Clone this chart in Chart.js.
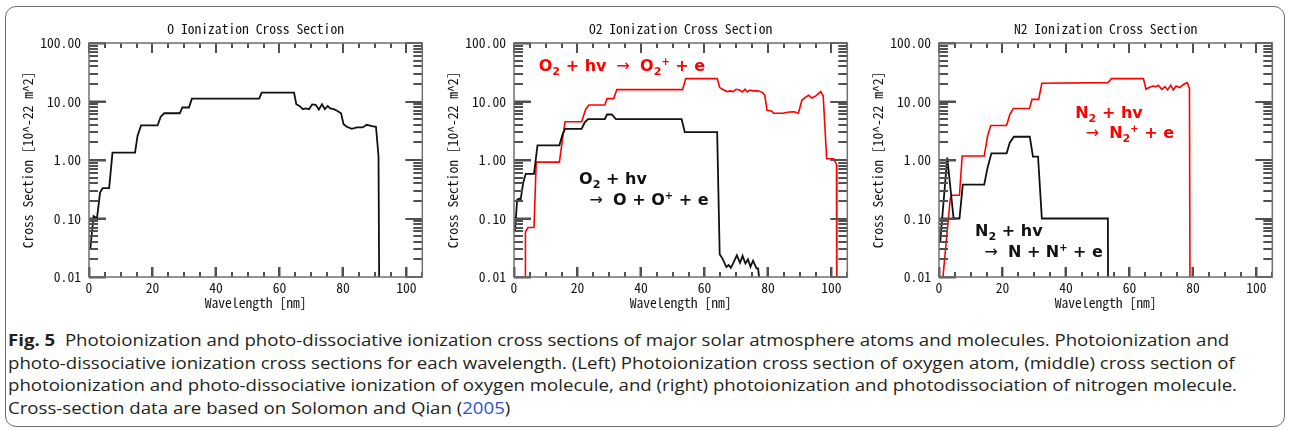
<!DOCTYPE html>
<html>
<head>
<meta charset="utf-8">
<script src="https://cdn.jsdelivr.net/npm/chart.js@4.4.1/dist/chart.umd.min.js"></script>
<style>
  html, body { margin: 0; padding: 0; background: #fff; }
  #fig { position: relative; width: 1290px; height: 431px; overflow: hidden; }
  #frame { position: absolute; left: 5px; top: 6px; width: 1280px; height: 421px;
           border: 1px solid #6e6e6e; border-radius: 11px; box-sizing: border-box; }
  canvas { position: absolute; top: 0; }
  #caption { position: absolute; left: 8px; top: 329px; font-family: "Open Sans", "Noto Sans", sans-serif;
             font-size: 16px; line-height: 22.7px; color: #231f20; white-space: nowrap; transform-origin: 0 0; }
  #caption b { font-weight: 700; }
  #caption .ref { color: #2a52d6; }
</style>
</head>
<body>
<div id="fig">
  <div id="frame"></div>
  <canvas id="cO" width="430" height="315" style="left:0px"></canvas>
  <canvas id="cO2" width="430" height="315" style="left:425px"></canvas>
  <canvas id="cN2" width="430" height="315" style="left:850px"></canvas>
  <div id="caption">
    <div><b>Fig. 5</b>&nbsp; Photoionization and photo-dissociative ionization cross sections of major solar atmosphere atoms and molecules. Photoionization and</div>
    <div>photo-dissociative ionization cross sections for each wavelength. (Left) Photoionization cross section of oxygen atom, (middle) cross section of</div>
    <div id="capRef">photoionization and photo-dissociative ionization of oxygen molecule, and (right) photoionization and photodissociation of nitrogen molecule.</div>
    <div>Cross-section data are based on Solomon and Qian (<span class="ref">2005</span>)</div>
  </div>
</div>
<script>
// Wavelength [nm] and cross section [10^-22 m^2] for each curve
const oWavelength = [0.4, 1.45, 2.5, 3.5, 4.3, 6.35, 7.4, 14.5, 15.3, 16.4, 21.6, 22.6, 23.7, 28.6, 29.4, 31.5, 32.4, 53.6, 54.4, 64.6, 65.3, 66.3, 67.4, 68.2, 69.3, 70.3, 71.4, 72.4, 73.4, 74.3, 75.2, 76.0, 77.1, 78.3, 79.4, 80.2, 81.2, 82.8, 84.4, 86.2, 87.5, 89.1, 90.4, 91.2, 91.5];
const oCross      = [0.03, 0.11, 0.10, 0.28, 0.33, 0.33, 1.34, 1.34, 2.6, 3.9, 3.9, 5.5, 6.3, 6.3, 7.9, 7.9, 11.2, 11.2, 14.2, 14.2, 9.0, 8.4, 7.4, 7.6, 7.4, 8.9, 8.8, 7.3, 9.0, 7.4, 8.4, 7.6, 7.4, 6.9, 6.3, 4.1, 3.7, 3.4, 3.6, 3.6, 4.0, 3.8, 3.7, 1.17, 0.001];

const o2IonWavelength = [3.5, 3.6, 4.4, 6.3, 7.0, 14.3, 15.3, 16.1, 21.3, 22.6, 23.6, 28.6, 29.3, 31.4, 32.4, 53.1, 54.1, 64.0, 64.8, 65.7, 67.0, 68.2, 69.0, 70.0, 71.0, 71.9, 72.8, 73.5, 74.3, 75.3, 76.9, 78.3, 79.0, 79.7, 81.1, 81.8, 84.6, 86.7, 88.2, 89.6, 90.7, 91.7, 92.8, 93.8, 95.1, 96.6, 97.4, 98.5, 100.7, 101.6, 101.7];
const o2IonCross      = [0.001, 0.059, 0.07, 0.07, 0.92, 0.92, 2.3, 4.5, 4.5, 7.4, 8.7, 8.7, 11.2, 11.2, 16.0, 16.0, 24.6, 24.6, 17.3, 16.2, 14.8, 15.2, 14.8, 16.2, 15.7, 14.6, 16.2, 14.6, 15.7, 15.2, 15.2, 14.2, 12.9, 7.1, 6.9, 6.3, 6.3, 6.6, 6.7, 6.3, 10.6, 11.7, 12.8, 11.5, 12.5, 14.8, 12.5, 1.05, 1.05, 0.84, 0.001];

const o2DissWavelength = [0.3, 1.0, 1.7, 2.1, 2.9, 3.7, 6.3, 7.4, 14.3, 15.3, 16.1, 21.3, 22.3, 23.3, 28.6, 29.3, 30.8, 32.1, 52.8, 53.8, 64.0, 64.8, 65.8, 66.9, 67.6, 68.3, 69.1, 70.2, 71.2, 72.0, 72.9, 73.7, 74.5, 75.3, 76.4, 76.9, 77.8];
const o2DissCross      = [0.061, 0.21, 0.22, 0.21, 0.41, 0.58, 0.58, 1.78, 1.78, 2.75, 3.4, 3.4, 4.4, 5.0, 5.0, 6.0, 6.0, 5.0, 5.0, 3.0, 3.0, 0.0244, 0.020, 0.0148, 0.016, 0.0143, 0.0175, 0.0235, 0.0175, 0.023, 0.017, 0.020, 0.015, 0.019, 0.014, 0.014, 0.005];

const n2IonWavelength = [1.25, 3.55, 4.05, 6.45, 7.3, 14.25, 15.3, 16.3, 21.3, 22.3, 23.4, 28.5, 29.3, 31.4, 32.4, 53.2, 54.3, 64.4, 65.2, 66.2, 67.3, 68.3, 69.1, 70.2, 71.2, 72.0, 73.0, 73.8, 74.7, 75.8, 77.1, 78.2, 78.9, 79.1];
const n2IonCross      = [0.01, 0.22, 0.25, 0.25, 1.17, 1.17, 2.57, 3.9, 3.9, 6.0, 7.6, 7.6, 10.9, 10.9, 20.5, 21.0, 24.6, 24.6, 16.2, 17.3, 18.4, 18.0, 19.0, 16.2, 18.0, 15.8, 19.0, 15.8, 18.4, 17.3, 19.7, 21.0, 16.6, 0.001];

const n2DissWavelength = [0.4, 2.6, 4.6, 6.45, 7.5, 14.25, 15.3, 16.5, 21.3, 22.3, 23.6, 28.6, 29.6, 31.2, 32.4, 53.2, 53.3];
const n2DissCross      = [0.041, 1.1, 0.10, 0.10, 0.38, 0.38, 0.74, 1.3, 1.3, 1.98, 2.5, 2.5, 1.14, 1.14, 0.10, 0.10, 0.001];

// Axis ticks
const xTickValues = [0, 20, 40, 60, 80, 100];
const xMinorTicks = [5, 10, 15, 25, 30, 35, 45, 50, 55, 65, 70, 75, 85, 90, 95, 105];
const yTickValues = [0.01, 0.1, 1, 10, 100];
const yTickLabels = ['0.01', '0.10', '1.00', '10.00', '100.00'];
const yMinorFactors = [2, 3, 4, 5, 6, 7, 8, 9];

const panelTitles = ['O Ionization Cross Section', 'O2 Ionization Cross Section', 'N2 Ionization Cross Section'];
const xAxisTitle = 'Wavelength [nm]';
const yAxisTitle = 'Cross Section [10^-22 m^2]';

const RED = '#ff0000';
const BLACK = '#111111';
const TICK_GREY = '#505050';
const AXIS_FONT = '"Noto Sans Mono CJK JP", "DejaVu Sans Mono", monospace';
const AXIS_SIZE = 13.6;
const NOTE_FONT = '"DejaVu Sans", Verdana, sans-serif';
const X_MAJOR_LEN = 10, X_MINOR_LEN = 5, Y_MAJOR_LEN = 17, Y_MINOR_LEN = 9;

const toPoints = (xs, ys) => xs.map((x, i) => ({ x, y: ys[i] }));

// Inward tick marks on all four edges plus the plot frame
const frameTicks = {
  id: 'frameTicks',
  afterDraw(chart) {
    const ctx = chart.ctx;
    const a = chart.chartArea;
    const xs = chart.scales.x, ys = chart.scales.y;
    ctx.save();
    ctx.globalAlpha = 1;
    ctx.globalCompositeOperation = 'source-over';
    ctx.fillStyle = TICK_GREY;
    xTickValues.forEach(v => {
      const px = Math.round(xs.getPixelForValue(v)) - 1;
      ctx.fillRect(px, a.top, 2, X_MAJOR_LEN);
      ctx.fillRect(px, a.bottom - X_MAJOR_LEN, 2, X_MAJOR_LEN);
    });
    xMinorTicks.forEach(v => {
      const px = Math.round(xs.getPixelForValue(v)) - 1;
      ctx.fillRect(px, a.top, 2, X_MINOR_LEN);
      ctx.fillRect(px, a.bottom - X_MINOR_LEN, 2, X_MINOR_LEN);
    });
    yTickValues.forEach(v => {
      const py = Math.round(ys.getPixelForValue(v)) - 1;
      ctx.fillRect(a.left, py, Y_MAJOR_LEN, 2);
      ctx.fillRect(a.right - Y_MAJOR_LEN, py, Y_MAJOR_LEN, 2);
    });
    yTickValues.slice(0, -1).forEach(dec => {
      yMinorFactors.forEach(k => {
        const py = Math.round(ys.getPixelForValue(dec * k)) - 1;
        ctx.fillRect(a.left, py, Y_MINOR_LEN, 2);
        ctx.fillRect(a.right - Y_MINOR_LEN, py, Y_MINOR_LEN, 2);
      });
    });
    ctx.strokeStyle = '#707070';
    ctx.lineWidth = 1.5;
    ctx.strokeRect(a.left, a.top, a.right - a.left, a.bottom - a.top);
    ctx.restore();
  }
};

// Reaction labels with sub/superscripts, anchored at data coordinates
const reactionNotes = {
  id: 'reactionNotes',
  afterDraw(chart) {
    const items = chart.config.options.reactionItems || [];
    const { ctx } = chart;
    const xs = chart.scales.x, ys = chart.scales.y;
    const size = 16;
    ctx.save();
    ctx.textBaseline = 'alphabetic';
    ctx.textAlign = 'left';
    items.forEach(item => {
      let px = xs.getPixelForValue(item.x);
      const py = ys.getPixelForValue(item.y);
      ctx.fillStyle = item.color;
      item.parts.forEach(([text, kind]) => {
        let fs = size, dy = 0, weight = 'bold', gap = 0;
        if (kind === 'sub') { fs = size * 0.7; dy = size * 0.22; }
        if (kind === 'sup') { fs = size * 0.62; dy = -size * 0.4; }
        if (kind === 'arrow') { weight = 'normal'; gap = 4.5; }
        ctx.font = `${weight} ${fs}px ${NOTE_FONT}`;
        px += gap;
        ctx.fillText(text, px, py + dy);
        px += ctx.measureText(text).width + gap;
      });
    });
    ctx.restore();
  }
};

function makePanel(id, title, datasets, notes) {
  return new Chart(document.getElementById(id), {
    type: 'line',
    data: {
      datasets: datasets.map(d => ({
        data: d.points,
        borderColor: d.color,
        borderWidth: d.width,
        pointRadius: 0,
        tension: 0,
        fill: false
      }))
    },
    options: {
      responsive: false,
      animation: false,
      devicePixelRatio: 1,
      reactionItems: notes,
      layout: { padding: { left: 0, right: 6, top: 0, bottom: 0 } },
      plugins: {
        legend: { display: false },
        tooltip: { enabled: false },
        title: {
          display: true, text: title, fullSize: false, color: '#111',
          font: { family: AXIS_FONT, size: AXIS_SIZE, weight: 'normal' },
          padding: { top: 20.3, bottom: 6.4 }
        }
      },
      scales: {
        x: {
          type: 'linear', min: 0, max: 105,
          // negative tick length turns the axis tick marks inward
          grid: { display: true, drawOnChartArea: false, drawTicks: true, tickLength: -X_MAJOR_LEN,
                  tickColor: TICK_GREY, tickWidth: 2 },
          border: { display: false },
          afterBuildTicks: s => { s.ticks = xTickValues.map(v => ({ value: v })); },
          afterFit: s => { s.height = 38; },
          ticks: { color: '#111', padding: 3 + X_MAJOR_LEN, maxRotation: 0, autoSkip: false,
                   font: { family: AXIS_FONT, size: AXIS_SIZE }, callback: v => String(v) },
          title: { display: true, text: xAxisTitle, color: '#111',
                   font: { family: AXIS_FONT, size: AXIS_SIZE }, padding: { top: 0, bottom: 4 } }
        },
        y: {
          type: 'logarithmic', min: 0.01, max: 100,
          grid: { display: true, drawOnChartArea: false, drawTicks: true, tickLength: -Y_MAJOR_LEN,
                  tickColor: TICK_GREY, tickWidth: 2 },
          border: { display: false },
          afterBuildTicks: s => { s.ticks = yTickValues.map(v => ({ value: v })); },
          afterFit: s => { s.width = 89; },
          ticks: { color: '#111', padding: 8 + Y_MAJOR_LEN, autoSkip: false,
                   font: { family: AXIS_FONT, size: AXIS_SIZE },
                   callback: v => yTickLabels[yTickValues.indexOf(v)] },
          title: { display: true, text: yAxisTitle, color: '#111',
                   font: { family: AXIS_FONT, size: AXIS_SIZE }, padding: { top: 19.5, bottom: 0 } }
        }
      }
    },
    plugins: [frameTicks, reactionNotes]
  });
}

makePanel('cO', panelTitles[0], [
  { points: toPoints(oWavelength, oCross), color: BLACK, width: 1.8 }
], []);

makePanel('cO2', panelTitles[1], [
  { points: toPoints(o2DissWavelength, o2DissCross), color: BLACK, width: 1.8 },
  { points: toPoints(o2IonWavelength, o2IonCross), color: RED, width: 1.6 }
], [
  { x: 7.8, y: 33, color: RED, parts: [['O'], ['2', 'sub'], [' + hv '], ['\u2192', 'arrow'], [' O'], ['2', 'sub'], ['+', 'sup'], [' + e']] },
  { x: 20.5, y: 0.385, color: BLACK, parts: [['O'], ['2', 'sub'], [' + hv']] },
  { x: 22.4, y: 0.168, color: BLACK, parts: [['\u2192', 'arrow'], [' O + O'], ['+', 'sup'], [' + e']] }
]);

makePanel('cN2', panelTitles[2], [
  { points: toPoints(n2DissWavelength, n2DissCross), color: BLACK, width: 1.8 },
  { points: toPoints(n2IonWavelength, n2IonCross), color: RED, width: 1.6 }
], [
  { x: 42.9, y: 5.16, color: RED, parts: [['N'], ['2', 'sub'], [' + hv']] },
  { x: 44.8, y: 2.35, color: RED, parts: [['\u2192', 'arrow'], [' N'], ['2', 'sub'], ['+', 'sup'], [' + e']] },
  { x: 11.35, y: 0.0497, color: BLACK, parts: [['N'], ['2', 'sub'], [' + hv']] },
  { x: 12.9, y: 0.0217, color: BLACK, parts: [['\u2192', 'arrow'], [' N + N'], ['+', 'sup'], [' + e']] }
]);

// Caption width: the third line runs to the right edge of the text block
const cap = document.getElementById('caption');
const natural = document.getElementById('capRef').scrollWidth;
cap.style.transform = `scaleX(${1229 / natural})`;
</script>
</body>
</html>
